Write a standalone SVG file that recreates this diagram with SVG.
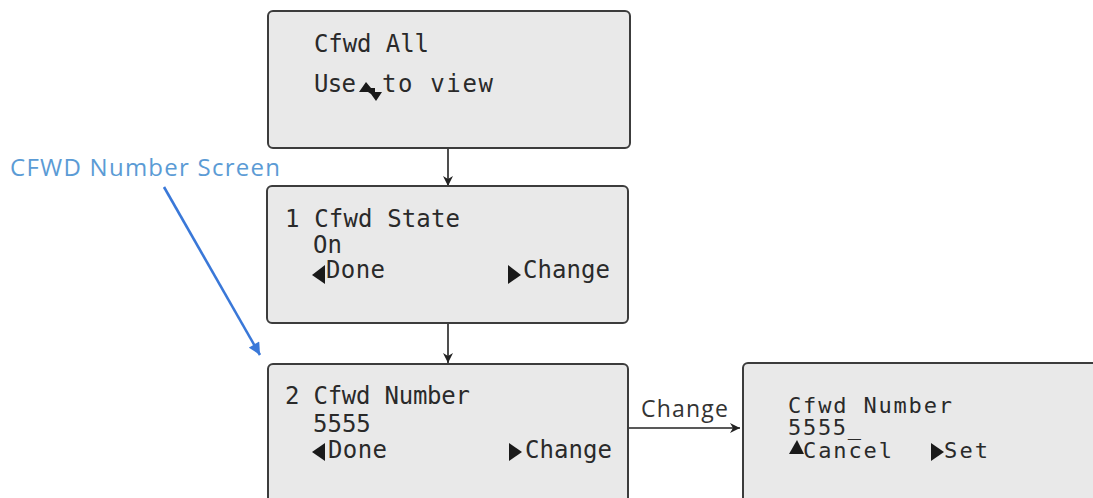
<svg xmlns="http://www.w3.org/2000/svg" width="1093" height="498" viewBox="0 0 1093 498">
<defs>
<style>
.box{fill:#e9e9e9;stroke:#3c3c3c;stroke-width:2}
.lcd{font-family:"DejaVu Sans Mono","Liberation Mono",monospace;font-size:24px;fill:#2a2a2a}
.sm{font-size:22px}
.ico{fill:#1a1a1a}
.conn{stroke:#222;stroke-width:1.6;fill:none}
.lbl{font-family:"Open Sans","Noto Sans",sans-serif;font-size:23px;fill:#333333}
.note{font-family:"Open Sans","Noto Sans",sans-serif;font-size:24px;fill:#5b9bd5}
</style>
<marker id="ah" viewBox="0 0 10 10" refX="10" refY="5" markerWidth="10" markerHeight="10" markerUnits="userSpaceOnUse" orient="auto">
<path d="M0,0 L10,5 L0,10 L3,5 Z" fill="#222"/>
</marker>
<marker id="bh" viewBox="0 0 10 10" refX="10" refY="5" markerWidth="14" markerHeight="12" markerUnits="userSpaceOnUse" orient="auto">
<path d="M0,0 L10,5 L0,10 Z" fill="#3a78d8"/>
</marker>
</defs>
<rect width="1093" height="498" fill="#ffffff"/>

<g id="connectors">
<line class="conn" x1="448" y1="149" x2="448" y2="186" marker-end="url(#ah)"/>
<line class="conn" x1="448" y1="324" x2="448" y2="363" marker-end="url(#ah)"/>
<line class="conn" x1="629" y1="428" x2="740" y2="428" marker-end="url(#ah)"/>
<text class="lbl" x="641" y="417" textLength="87">Change</text>
</g>

<g id="note">
<text class="note" x="10" y="176" textLength="270">CFWD Number Screen</text>
<line x1="164" y1="187" x2="260" y2="355" stroke="#3a78d8" stroke-width="2.6" marker-end="url(#bh)"/>
</g>

<g id="cfwd-all">
<rect class="box" x="268" y="11" width="362" height="137" rx="5"/>
<text class="lcd" x="314" y="52" textLength="115">Cfwd All</text>
<text class="lcd" x="314" y="92" textLength="42">Use</text>
<path class="ico" d="M359,92 L366,82 L371,88 L375,88 L375,92 L382,92 L376,101 L371,94 L368,92 Z"/>
<text class="lcd" x="382" y="92" textLength="111">to view</text>
</g>

<g id="cfwd-state">
<rect class="box" x="267" y="186" width="361" height="137" rx="5"/>
<text class="lcd" x="285" y="227" textLength="175">1 Cfwd State</text>
<text class="lcd" x="313" y="253">On</text>
<path class="ico" d="M312,275 L325,265 L325,284 Z"/>
<text class="lcd" x="326" y="278" textLength="59">Done</text>
<path class="ico" d="M508,265 L521,275 L508,284 Z"/>
<text class="lcd" x="523" y="278" textLength="87">Change</text>
</g>

<g id="cfwd-number">
<rect class="box" x="268" y="364" width="360" height="140" rx="5"/>
<text class="lcd" x="285" y="404" textLength="185">2 Cfwd Number</text>
<text class="lcd" x="313" y="432">5555</text>
<path class="ico" d="M312,452 L325,443 L325,461 Z"/>
<text class="lcd" x="328" y="458" textLength="59">Done</text>
<path class="ico" d="M509,443 L522,452 L509,461 Z"/>
<text class="lcd" x="525" y="458" textLength="87">Change</text>
</g>

<g id="cfwd-number-edit">
<rect class="box" x="743" y="363" width="360" height="141" rx="5"/>
<text class="lcd sm" x="788" y="413" textLength="164">Cfwd Number</text>
<text class="lcd sm" x="788" y="435" textLength="73">5555_</text>
<path class="ico" d="M789,454 L797,440 L804,454 Z"/>
<text class="lcd sm" x="803" y="458" textLength="89">Cancel</text>
<path class="ico" d="M931,443 L944,452 L931,461 Z"/>
<text class="lcd sm" x="944" y="458" textLength="44">Set</text>
</g>
</svg>
